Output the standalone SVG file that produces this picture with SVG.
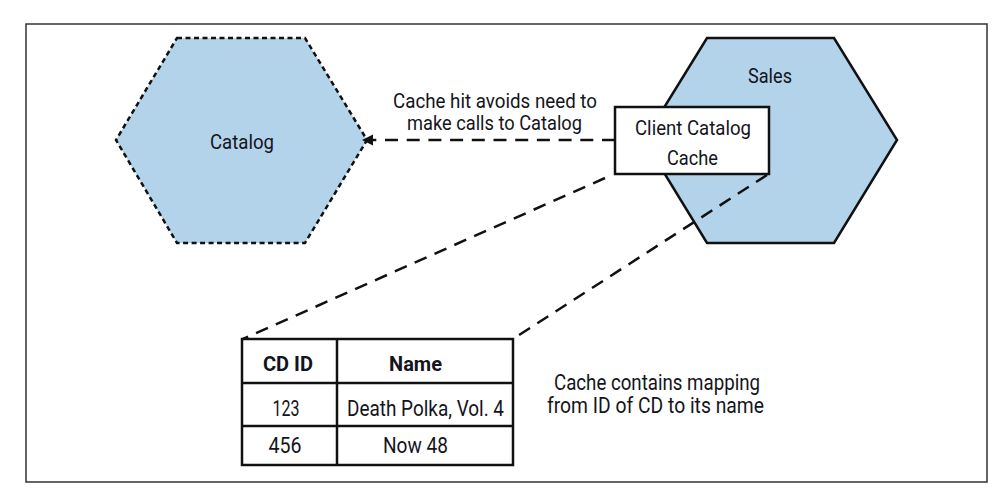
<svg xmlns="http://www.w3.org/2000/svg" width="1007" height="498" viewBox="0 0 1007 498">
<style>
text{font-family:Roboto,"Liberation Sans",sans-serif;font-size:21px;fill:#141420;text-anchor:middle}
.b{font-weight:bold}
.l{font-size:22px}
.hex{fill:#b2d3ea;stroke:#111;stroke-width:2.5;stroke-linejoin:miter}
.dot{stroke-dasharray:5 3.5}
.conn{fill:none;stroke:#111;stroke-width:2.5;stroke-dasharray:13 8.7}
.cell{fill:#fff;stroke:#111;stroke-width:2.5}
.ln{stroke:#111;stroke-width:2.5}
</style>
<defs>
<marker id="ah" viewBox="0 0 10 10" refX="1" refY="5" markerWidth="4.5" markerHeight="4.5" orient="auto-start-reverse" markerUnits="strokeWidth">
<path d="M0,0 L10,5 L0,10 z" fill="#111"/>
</marker>
</defs>
<rect x="0" y="0" width="1007" height="498" fill="#fff"/>
<rect id="frame" x="26" y="24" width="961" height="458" fill="none" stroke="#333" stroke-width="1.5"/>

<g id="catalog">
<polygon class="hex dot" points="177,38 305,38 367,140 305,243 177,243 116,140"/>
<text x="242" y="149" textLength="64" lengthAdjust="spacingAndGlyphs">Catalog</text>
</g>

<g id="sales">
<polygon class="hex" points="707,38 834,38 897,140 834,243 707,243 644,140"/>
<text x="770" y="83" textLength="44" lengthAdjust="spacingAndGlyphs">Sales</text>
</g>

<g id="connectors">
<path class="conn" d="M615,140 L372,140" marker-end="url(#ah)"/>
<path class="conn" d="M605,178 L243,339"/>
<path class="conn" d="M767,175 L513,339"/>
</g>

<g id="cache">
<rect x="615" y="107" width="154" height="67" fill="#fff" stroke="#111" stroke-width="2.5"/>
<text x="693" y="135" textLength="116" lengthAdjust="spacingAndGlyphs">Client Catalog</text>
<text x="692.5" y="165" textLength="51" lengthAdjust="spacingAndGlyphs">Cache</text>
</g>

<g id="arrow-label">
<text x="495" y="108" textLength="204" lengthAdjust="spacingAndGlyphs">Cache hit avoids need to</text>
<text x="494.5" y="130" textLength="175" lengthAdjust="spacingAndGlyphs">make calls to Catalog</text>
</g>

<g id="table">
<rect class="cell" x="242" y="339" width="271" height="126"/>
<line class="ln" x1="337" y1="339" x2="337" y2="465"/>
<line class="ln" x1="242" y1="383" x2="513" y2="383"/>
<line class="ln" x1="242" y1="426" x2="513" y2="426"/>
<text class="b" x="288" y="371" textLength="50" lengthAdjust="spacingAndGlyphs">CD ID</text>
<text class="b" x="415.5" y="371" textLength="53" lengthAdjust="spacingAndGlyphs">Name</text>
<text class="l" x="286" y="416" textLength="27" lengthAdjust="spacingAndGlyphs">123</text>
<text class="l" x="425.5" y="416" textLength="157" lengthAdjust="spacingAndGlyphs">Death Polka, Vol. 4</text>
<text class="l" x="285" y="453" textLength="33" lengthAdjust="spacingAndGlyphs">456</text>
<text class="l" x="415.5" y="453" textLength="65" lengthAdjust="spacingAndGlyphs">Now 48</text>
</g>

<g id="note">
<text class="l" x="657" y="390" textLength="206" lengthAdjust="spacingAndGlyphs">Cache contains mapping</text>
<text class="l" x="655.5" y="413" textLength="217" lengthAdjust="spacingAndGlyphs">from ID of CD to its name</text>
</g>
</svg>
